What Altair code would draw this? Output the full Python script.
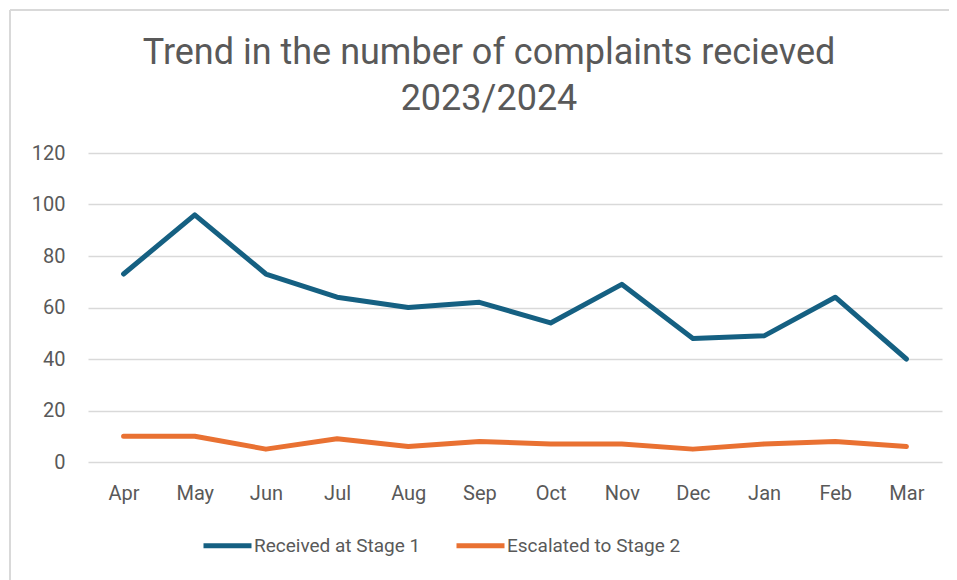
import altair as alt
import pandas as pd

months = ["Apr", "May", "Jun", "Jul", "Aug", "Sep", "Oct", "Nov", "Dec", "Jan", "Feb", "Mar"]
stage1 = [73, 96, 73, 64, 60, 62, 54, 69, 48, 49, 64, 40]
stage2 = [10, 10, 5, 9, 6, 8, 7, 7, 5, 7, 8, 6]
series_names = ["Received at Stage 1", "Escalated to Stage 2"]
series_colors = ["#156082", "#E97132"]
title_lines = ["Trend in the number of complaints recieved", "2023/2024"]

rows = []
for m, a, b in zip(months, stage1, stage2):
    rows.append({"Month": m, "Series": series_names[0], "Value": a})
    rows.append({"Month": m, "Series": series_names[1], "Value": b})
df = pd.DataFrame(rows)

FONT = "Roboto"
GREY = "#595959"

lines = alt.Chart(df).mark_line(strokeWidth=5, strokeCap="round", strokeJoin="round").encode(
    x=alt.X("Month:N", sort=months, title=None,
            axis=alt.Axis(labelAngle=0, domain=False, ticks=False, grid=False,
                          labelFontSize=20, labelColor=GREY, labelFont=FONT, labelPadding=21)),
    y=alt.Y("Value:Q", title=None,
            scale=alt.Scale(domain=[0, 120], nice=False),
            axis=alt.Axis(values=[0, 20, 40, 60, 80, 100, 120], domain=False, ticks=False,
                          gridColor="#d9d9d9", gridWidth=1.3,
                          labelFontSize=20, labelColor=GREY, labelFont=FONT, labelPadding=23)),
    color=alt.Color("Series:N", sort=series_names,
                    scale=alt.Scale(domain=series_names, range=series_colors),
                    legend=alt.Legend(title=None, orient="none", direction="horizontal",
                                      legendX=113, legendY=366, padding=0,
                                      symbolType="stroke", symbolSize=2304, symbolStrokeWidth=5,
                                      labelFontSize=19, labelColor=GREY, labelFont=FONT,
                                      labelOffset=0, columnPadding=25, labelLimit=0)),
)

border_left = alt.Chart(df).mark_rule(color="#d9d9d9", strokeWidth=1.5).encode(
    x=alt.value(-78), y=alt.value(-143), y2=alt.value(430))
border_top = alt.Chart(df).mark_rule(color="#d9d9d9", strokeWidth=1.5).encode(
    x=alt.value(-78), x2=alt.value(870), y=alt.value(-143))

chart = alt.layer(border_left, border_top, lines).properties(
    width=854, height=309,
    title=alt.TitleParams(text=title_lines, fontSize=36, font=FONT, color=GREY,
                          fontWeight="normal", anchor="middle", dx=-26, offset=-109,
                          lineHeight=46),
    autosize=alt.AutoSizeParams(type="none"),
    padding={"left": 80, "top": 145, "right": 7, "bottom": 118},
).configure(background="white").configure_view(stroke="transparent", strokeWidth=0)

chart.save("out.html", embed_options={"renderer": "svg", "actions": False})
